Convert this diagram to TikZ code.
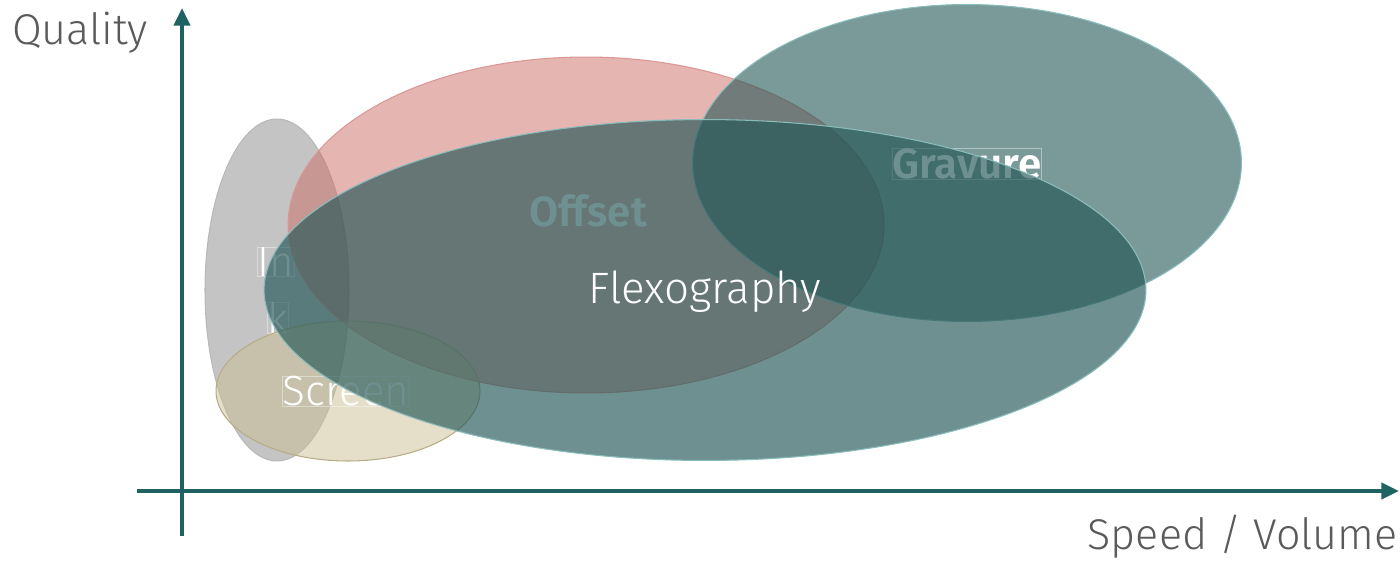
\documentclass[tikz,border=0pt]{standalone}
\usepackage{fontspec}
\setmainfont{Fira Sans}[UprightFont=* Light, BoldFont=* SemiBold]
\usepackage{xcolor}
\usetikzlibrary{shapes.geometric, arrows.meta}
\definecolor{axisteal}{RGB}{31,98,98}
\definecolor{axistext}{RGB}{90,90,90}
\definecolor{flexoteal}{RGB}{34,85,85}
\definecolor{offsetpink}{RGB}{204,107,102}
\definecolor{inkgray}{RGB}{137,137,137}
\definecolor{screenbeige}{RGB}{204,191,150}
\definecolor{rimteal}{RGB}{139,188,188}

\begin{document}
\begin{tikzpicture}[
    x=0.02cm, y=-0.02cm,
    blob/.style={ellipse, inner sep=0pt, outer sep=0pt, line width=0.6pt},
    tag/.style={text=white, inner sep=0pt, draw=white, draw opacity=0.4, line width=0.4pt, font=\fontsize{24}{29}\selectfont},
    axislabel/.style={text=axistext, inner sep=0pt, font=\fontsize{24.5}{30}\selectfont},
    axis/.style={draw=axisteal, line width=2.3pt, -{Triangle[length=10pt, width=9pt]}}
]
\useasboundingbox (0,0) rectangle (1400,561);

% axes
\coordinate (ybot) at (182,536);
\coordinate (ytop) at (182,8);
\coordinate (xleft) at (137,491);
\coordinate (xright) at (1399,491);
\draw[axis] (ybot) -- (ytop);
\draw[axis] (xleft) -- (xright);
\node[axislabel] (quality) at (80,33) {Quality};
\node[axislabel, anchor=east] (speed) at (1398,537) {Speed / Volume};

% processes, back to front
\node[blob, draw=inkgray!60, fill=inkgray, fill opacity=0.5, minimum width=2.88cm, minimum height=6.84cm] (inkjet) at (277,290) {};
\node[tag] (inktopline) at (276,262) {In};
\node[tag] (inkbotline) at (278,318) {k};

\node[blob, draw=offsetpink!70, fill=offsetpink, fill opacity=0.5, minimum width=11.92cm, minimum height=6.72cm] (offset) at (586,225) {};
\node[tag, draw=none, font=\fontsize{24}{29}\selectfont\bfseries] (offsetlbl) at (588,211) {Offset};

\node[blob, draw=rimteal, fill=flexoteal, fill opacity=0.6, minimum width=10.98cm, minimum height=6.34cm] (gravure) at (967,163) {};
\node[tag, font=\fontsize{24}{29}\selectfont\bfseries] (gravurelbl) at (967,164) {Gravure};

\node[blob, draw=screenbeige!90!black, fill=screenbeige, fill opacity=0.5, minimum width=5.28cm, minimum height=2.8cm] (screen) at (348,391) {};
\node[tag] (screenlbl) at (346,391) {Screen};

\node[blob, draw=rimteal, fill=flexoteal, fill opacity=0.65, minimum width=17.64cm, minimum height=6.82cm] (flexo) at (705,290) {};
\node[tag, draw=none, font=\fontsize{25}{30}\selectfont] (flexolbl) at (705,292) {Flexography};
\end{tikzpicture}
\end{document}
